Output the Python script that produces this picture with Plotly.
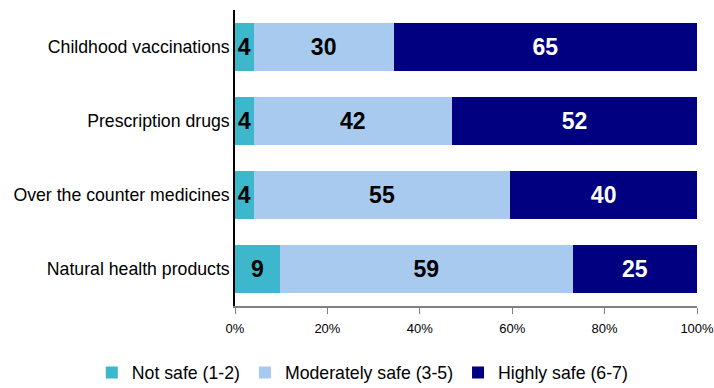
import plotly.graph_objects as go

categories = ["Childhood vaccinations", "Prescription drugs",
              "Over the counter medicines", "Natural health products"]
not_safe = [4, 4, 4, 9]
moderately_safe = [30, 42, 55, 59]
highly_safe = [65, 52, 40, 25]
series_names = ["Not safe (1-2)", "Moderately safe (3-5)", "Highly safe (6-7)"]
tick_vals = [0, 20, 40, 60, 80, 100]
tick_text = ["0%", "20%", "40%", "60%", "80%", "100%"]

colors = ["#3DB7CC", "#A8CAEF", "#000080"]
label_colors = ["black", "black", "white"]

SANS = "Liberation Sans, Arial"
fig = go.Figure()
for name, vals, col, lc in zip(series_names, [not_safe, moderately_safe, highly_safe],
                               colors, label_colors):
    fig.add_trace(go.Bar(
        y=categories, x=vals, name=name, orientation="h",
        marker=dict(color=col, line=dict(width=0)),
        text=["<b>%d</b>" % v for v in vals], textposition="inside",
        insidetextanchor="middle",
        textfont=dict(family=SANS, size=23, color=lc),
        hoverinfo="skip",
    ))

fig.update_layout(
    barmode="stack", barnorm="percent", bargap=0.36,
    width=714, height=388,
    margin=dict(l=235, r=17, t=10, b=82, autoexpand=False),
    paper_bgcolor="white", plot_bgcolor="white",
    uniformtext=dict(minsize=23, mode="show"),
    showlegend=True,
    legend=dict(orientation="h", x=-0.31, xanchor="left",
                y=-0.226, yanchor="middle",
                bgcolor="rgba(0,0,0,0)",
                font=dict(family=SANS, size=17.7, color="black"),
                traceorder="normal"),
    xaxis=dict(range=[0, 100], tickvals=tick_vals, ticktext=tick_text,
               showgrid=False, zeroline=False, showline=True, linecolor="#808080",
               linewidth=1.5, ticks="outside", ticklen=6, tickcolor="#808080",
               ticklabelstandoff=4, ticklabeloverflow="allow",
               tickfont=dict(family=SANS, size=13, color="black"),
               automargin=False, fixedrange=True),
    yaxis=dict(autorange="reversed", showgrid=False, zeroline=False, showline=True,
               linecolor="black", linewidth=1.5, ticks="",
               tickfont=dict(family=SANS, size=17.7, color="black"),
               automargin=False, fixedrange=True),
)

fig.write_html("out.html")
